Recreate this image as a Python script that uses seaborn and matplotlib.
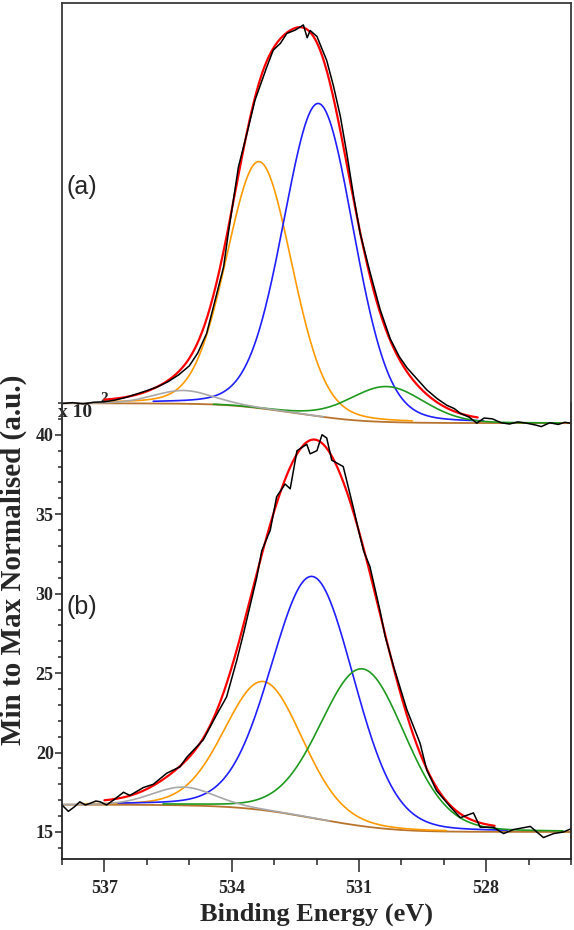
import numpy as np
import pandas as pd
import matplotlib
matplotlib.use("Agg")
import matplotlib.pyplot as plt
import seaborn as sns
from matplotlib.ticker import MultipleLocator, FixedLocator

# ---- fitted components (O 1s): orange, blue, green, grey ----
comp_colors = ["#ff9a00", "#1f1fff", "#1e9a1e", "#a8a8a8"]

top_centers = [533.35, 531.95, 530.34, 535.14]
top_fwhm = [1.81, 1.95, 2.05, 1.65]
top_heights = [57.7, 73.2, 8.3, 3.1]
top_bg_levels = (6.25, 1.6)          # high-BE side, low-BE side

bot_centers = [533.25, 532.09, 530.91, 535.14]
bot_fwhm = [2.16, 2.30, 2.36, 1.73]
bot_heights = [8.1, 15.2, 9.9, 1.15]
bot_bg_levels = (16.72, 15.0)

# ---- measured spectra ----
top_be = [538.00, 537.75, 537.50, 537.25, 537.00, 536.75, 536.50, 536.25, 536.00,
          535.75, 535.50, 535.25, 535.00, 534.80, 534.59, 534.39, 534.19, 534.08,
          533.96, 533.84, 533.64, 533.45, 533.17, 533.02, 532.85, 532.70, 532.50,
          532.31, 532.22, 532.15, 531.99, 531.76, 531.60, 531.44, 531.29, 531.13,
          530.97, 530.74, 530.50, 530.26, 530.05, 529.87, 529.60, 529.40, 529.15,
          528.93, 528.75, 528.61, 528.40, 528.22, 528.05, 527.85, 527.65, 527.45,
          527.25, 527.05, 526.85, 526.70, 526.50, 526.30, 526.15, 526.00]
top_counts = [6.2, 6.4, 6.1, 6.5, 6.6, 7.0, 7.6, 8.4, 9.2,
              10.1, 11.3, 12.9, 15.0, 18.0, 22.6, 30.4, 38.2, 46.0,
              53.8, 61.6, 69.4, 77.2, 85.0, 88.9, 90.5, 92.8, 93.6,
              94.8, 91.8, 93.5, 92.1, 86.5, 80.5, 73.5, 65.0, 55.0,
              46.0, 37.0, 28.2, 21.3, 17.2, 14.6, 11.6, 9.4, 7.3,
              5.8, 5.0, 3.9, 3.0, 1.6, 2.8, 2.6, 1.7, 1.4,
              1.9, 1.6, 1.2, 0.8, 1.7, 1.3, 1.8, 1.6]

bot_be = [538.00, 537.85, 537.70, 537.58, 537.45, 537.34, 537.20, 537.10, 536.95,
          536.79, 536.55, 536.40, 536.08, 535.85, 535.53, 535.22, 535.06, 534.67,
          534.35, 534.12, 533.88, 533.72, 533.57, 533.41, 533.29, 533.09, 532.94,
          532.74, 532.62, 532.46, 532.23, 532.15, 531.99, 531.87, 531.76, 531.64,
          531.37, 531.13, 531.01, 530.89, 530.74, 530.50, 530.38, 530.18, 529.87,
          529.56, 529.40, 529.17, 528.85, 528.61, 528.30, 528.14, 527.83, 527.59,
          527.36, 526.96, 526.65, 526.41, 526.18, 526.00]
bot_counts = [16.7, 16.3, 16.6, 16.9, 16.7, 16.8, 16.95, 16.9, 16.7,
              17.0, 17.5, 17.3, 17.8, 18.0, 18.7, 19.1, 19.7, 20.8,
              22.4, 23.5, 25.8, 27.5, 29.2, 31.0, 32.7, 34.0, 36.1,
              36.9, 36.6, 39.0, 39.4, 38.8, 39.0, 40.0, 39.8, 38.4,
              38.0, 35.4, 34.0, 32.7, 31.7, 28.9, 27.3, 25.4, 22.7,
              20.6, 18.9, 17.6, 16.6, 15.9, 16.2, 15.3, 15.3, 14.9,
              15.15, 15.35, 14.65, 14.9, 15.0, 15.2]

MIX = 0.12  # Lorentzian share of the line shape


def gl(e, c, f, h):
    u = ((e - c) / f) ** 2
    return h * ((1 - MIX) * np.exp(-4 * np.log(2) * u) + MIX / (1 + 4 * u))


def build_fit(centers, fwhm, heights, levels):
    e = np.linspace(526, 538, 1201)
    peaks = [gl(e, c, f, h) for c, f, h in zip(centers, fwhm, heights)]
    total = np.sum(peaks, axis=0)
    # Shirley-type step: grows with the peak area on the low-BE side
    area = np.concatenate([[0], np.cumsum((total[1:] + total[:-1]) / 2)])
    bg = levels[1] + (levels[0] - levels[1]) * area / area[-1]
    return e, peaks, bg, bg + total


def draw_panel(ax, centers, fwhm, heights, levels, be, counts, env_range):
    e, peaks, bg, env = build_fit(centers, fwhm, heights, levels)
    sns.lineplot(x=e, y=bg, ax=ax, color="#b8742e", lw=1.3, estimator=None)
    for p, col, c, f in zip(peaks, comp_colors, centers, fwhm):
        m = np.abs(e - c) <= 2.0 * f
        sns.lineplot(x=e[m], y=bg[m] + p[m], ax=ax, color=col, lw=1.2, estimator=None)
    m = (e <= env_range[0]) & (e >= env_range[1])
    sns.lineplot(x=e[m], y=env[m], ax=ax, color="#ff0000", lw=1.6, estimator=None)
    sns.lineplot(x=be, y=counts, ax=ax, color="black", lw=1.1, estimator=None)


sns.set_style("ticks")
plt.rcParams["font.family"] = ["Liberation Serif", "DejaVu Serif"]

W, H = 574, 930
fig = plt.figure(figsize=(W / 100, H / 100), dpi=100)


def box(x0, y0, x1, y1):
    return [x0 / W, 1 - y1 / H, (x1 - x0) / W, (y1 - y0) / H]


ax_b = fig.add_axes(box(62, 403, 571, 859))
ax_t = fig.add_axes(box(62, 2.7, 571, 430))
for a in (ax_t, ax_b):
    a.patch.set_alpha(0)

draw_panel(ax_t, top_centers, top_fwhm, top_heights, top_bg_levels,
           top_be, top_counts, (537.0, 528.2))
draw_panel(ax_b, bot_centers, bot_fwhm, bot_heights, bot_bg_levels,
           bot_be, bot_counts, (537.0, 527.8))

# top panel: frame only
ax_t.set_xlim(538, 526)
ax_t.set_ylim(0, 100)
ax_t.set_xticks([])
ax_t.set_yticks([])
ax_t.spines["bottom"].set_visible(False)
for s in ("left", "top", "right"):
    ax_t.spines[s].set_color("#3a3a3a")
    ax_t.spines[s].set_linewidth(1.3)

# bottom panel with axes
ax_b.set_xlim(538, 526)
ax_b.set_ylim(13.3, 42.0)
ax_b.spines["top"].set_visible(False)
for s in ("left", "bottom", "right"):
    ax_b.spines[s].set_color("#222222")
    ax_b.spines[s].set_linewidth(1.3)
ax_b.xaxis.set_major_locator(FixedLocator([537, 534, 531, 528]))
ax_b.xaxis.set_minor_locator(MultipleLocator(1))
ax_b.yaxis.set_major_locator(MultipleLocator(5))
ax_b.yaxis.set_minor_locator(MultipleLocator(1))
ax_b.tick_params(axis="x", which="major", length=9, width=1.1, pad=6, labelsize=13)
ax_b.tick_params(axis="x", which="minor", length=4.5, width=1.1)
ax_b.tick_params(axis="y", which="major", length=5, width=1.1, pad=1, labelsize=13)
ax_b.tick_params(axis="y", which="minor", length=3, width=1.1)
for lab in ax_b.get_xticklabels() + ax_b.get_yticklabels():
    lab.set_fontweight("bold")

ax_b.set_xlabel("Binding Energy (eV)", fontsize=19, fontweight="bold", labelpad=4)
ax_b.set_ylabel("Min to Max Normalised (a.u.)", fontsize=21, fontweight="bold")
ax_b.yaxis.set_label_coords(-0.068, 0.656)

ax_b.text(-0.008, 0.998, "x 10", transform=ax_b.transAxes, fontsize=14,
          fontweight="bold", va="top", ha="left")
ax_b.text(0.075, 1.024, "2", transform=ax_b.transAxes, fontsize=11,
          fontweight="bold", va="top", ha="left")

fig.text(67 / W, 1 - 187 / H, "(a)", fontsize=18, family="Liberation Sans", va="center")
fig.text(67 / W, 1 - 607 / H, "(b)", fontsize=18, family="Liberation Sans", va="center")

fig.savefig("out.png", dpi=100)
